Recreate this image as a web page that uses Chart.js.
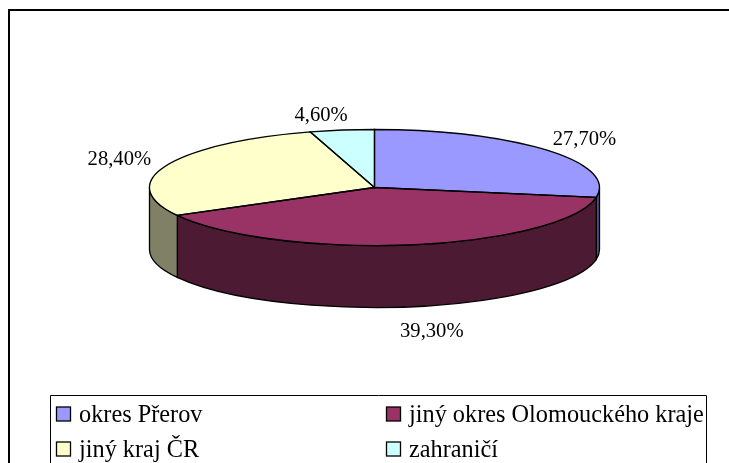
<!DOCTYPE html>
<html>
<head>
<meta charset="utf-8">
<style>html,body{margin:0;padding:0;background:#fff}canvas{display:block}</style>
<script src="https://cdn.jsdelivr.net/npm/chart.js@4"></script>
</head>
<body>
<canvas id="c" width="729" height="463"></canvas>
<script>
const categories = ["okres Přerov", "jiný okres Olomouckého kraje", "jiný kraj ČR", "zahraničí"];
const shares = [27.7, 39.3, 28.4, 4.6];
const valueLabels = ["27,70%", "39,30%", "28,40%", "4,60%"];
const topColors = ["#9999FF", "#993366", "#FFFFCC", "#CCFFFF"];
const wallColors = ["#4D4D80", "#4D1A33", "#808066", "#668080"];

const LABEL_FONT = '20.6px "Liberation Serif", "Times New Roman", serif';
const LEGEND_FONT = '24.3px "Liberation Serif", "Times New Roman", serif';
const RX = 225, RY = 58, DEPTH = 62;
const labelNudges = [[38, -11], [20, 25], [-47, -6], [-21, -15]];
const legendCells = [[56, 414], [386, 414], [56, 449], [386, 449]];

const pie3d = {
  id: "pie3d",
  beforeDraw(chart) {
    const c = chart.ctx;
    c.save();
    c.fillStyle = "#fff";
    c.fillRect(0, 0, chart.width, chart.height);
    c.strokeStyle = "#000";
    c.lineWidth = 2;
    c.beginPath();
    c.moveTo(9, chart.height + 2);
    c.lineTo(9, 10);
    c.lineTo(chart.width + 2, 10);
    c.stroke();
    c.restore();
  },
  beforeDatasetsDraw(chart) {
    const c = chart.ctx;
    const arcs = chart.getDatasetMeta(0).data;
    c.save();
    c.lineWidth = 1.3;
    c.strokeStyle = "#000";
    arcs.forEach((a, i) => {
      const p = a.getProps(["x", "y", "startAngle", "endAngle"], true);
      const from = Math.max(p.startAngle, 0);
      const to = Math.min(p.endAngle, Math.PI);
      if (to <= from) return;
      c.beginPath();
      c.ellipse(p.x, p.y, RX, RY, 0, from, to);
      c.ellipse(p.x, p.y + DEPTH, RX, RY, 0, to, from, true);
      c.closePath();
      c.fillStyle = wallColors[i];
      c.fill();
      c.stroke();
    });
    c.restore();
    const o = arcs[0];
    c.save();
    c.translate(o.x, o.y);
    c.scale(1, RY / RX);
    c.translate(-o.x, -o.y);
  },
  afterDatasetsDraw(chart) {
    const c = chart.ctx;
    c.restore();
    const arcs = chart.getDatasetMeta(0).data;
    c.save();
    c.lineWidth = 1.3;
    c.strokeStyle = "#000";
    arcs.forEach(a => {
      const p = a.getProps(["x", "y", "startAngle", "endAngle"], true);
      c.beginPath();
      c.moveTo(p.x, p.y);
      c.ellipse(p.x, p.y, RX, RY, 0, p.startAngle, p.endAngle);
      c.closePath();
      c.stroke();
    });
    c.restore();
  },
  afterDraw(chart) {
    const c = chart.ctx;
    const arcs = chart.getDatasetMeta(0).data;
    c.save();
    c.font = LABEL_FONT;
    c.fillStyle = "#000";
    c.textBaseline = "middle";
    c.textAlign = "center";
    arcs.forEach((a, i) => {
      const p = a.getProps(["x", "y", "startAngle", "endAngle"], true);
      const mid = (p.startAngle + p.endAngle) / 2;
      const sinM = Math.sin(mid);
      const x = p.x + RX * Math.cos(mid) + labelNudges[i][0];
      const y = p.y + RY * sinM + (sinM > 0 ? DEPTH : 0) + labelNudges[i][1];
      c.fillText(valueLabels[i], x, y);
    });
    c.strokeStyle = "#000";
    c.lineWidth = 1;
    c.beginPath();
    c.moveTo(50.5, chart.height + 2);
    c.lineTo(50.5, 395.5);
    c.lineTo(706.5, 395.5);
    c.lineTo(706.5, chart.height + 2);
    c.stroke();
    c.textAlign = "left";
    c.textBaseline = "alphabetic";
    c.font = LEGEND_FONT;
    categories.forEach((name, i) => {
      const [x, y] = legendCells[i];
      c.fillStyle = topColors[i];
      c.lineWidth = 1.3;
      c.fillRect(x + 0.5, y - 7, 14, 14);
      c.strokeRect(x + 0.5, y - 7, 14, 14);
      c.fillStyle = "#000";
      c.fillText(name, x + 23, y + 8);
    });
    c.restore();
  }
};

new Chart(document.getElementById("c"), {
  type: "pie",
  data: {
    labels: categories,
    datasets: [{
      data: shares,
      backgroundColor: topColors,
      borderWidth: 0,
      clip: false
    }]
  },
  options: {
    responsive: false,
    animation: false,
    radius: RX,
    layout: { padding: { left: 20, right: 0, top: 0, bottom: 88 } },
    plugins: { legend: { display: false }, tooltip: { enabled: false } }
  },
  plugins: [pie3d]
});
</script>
</body>
</html>
